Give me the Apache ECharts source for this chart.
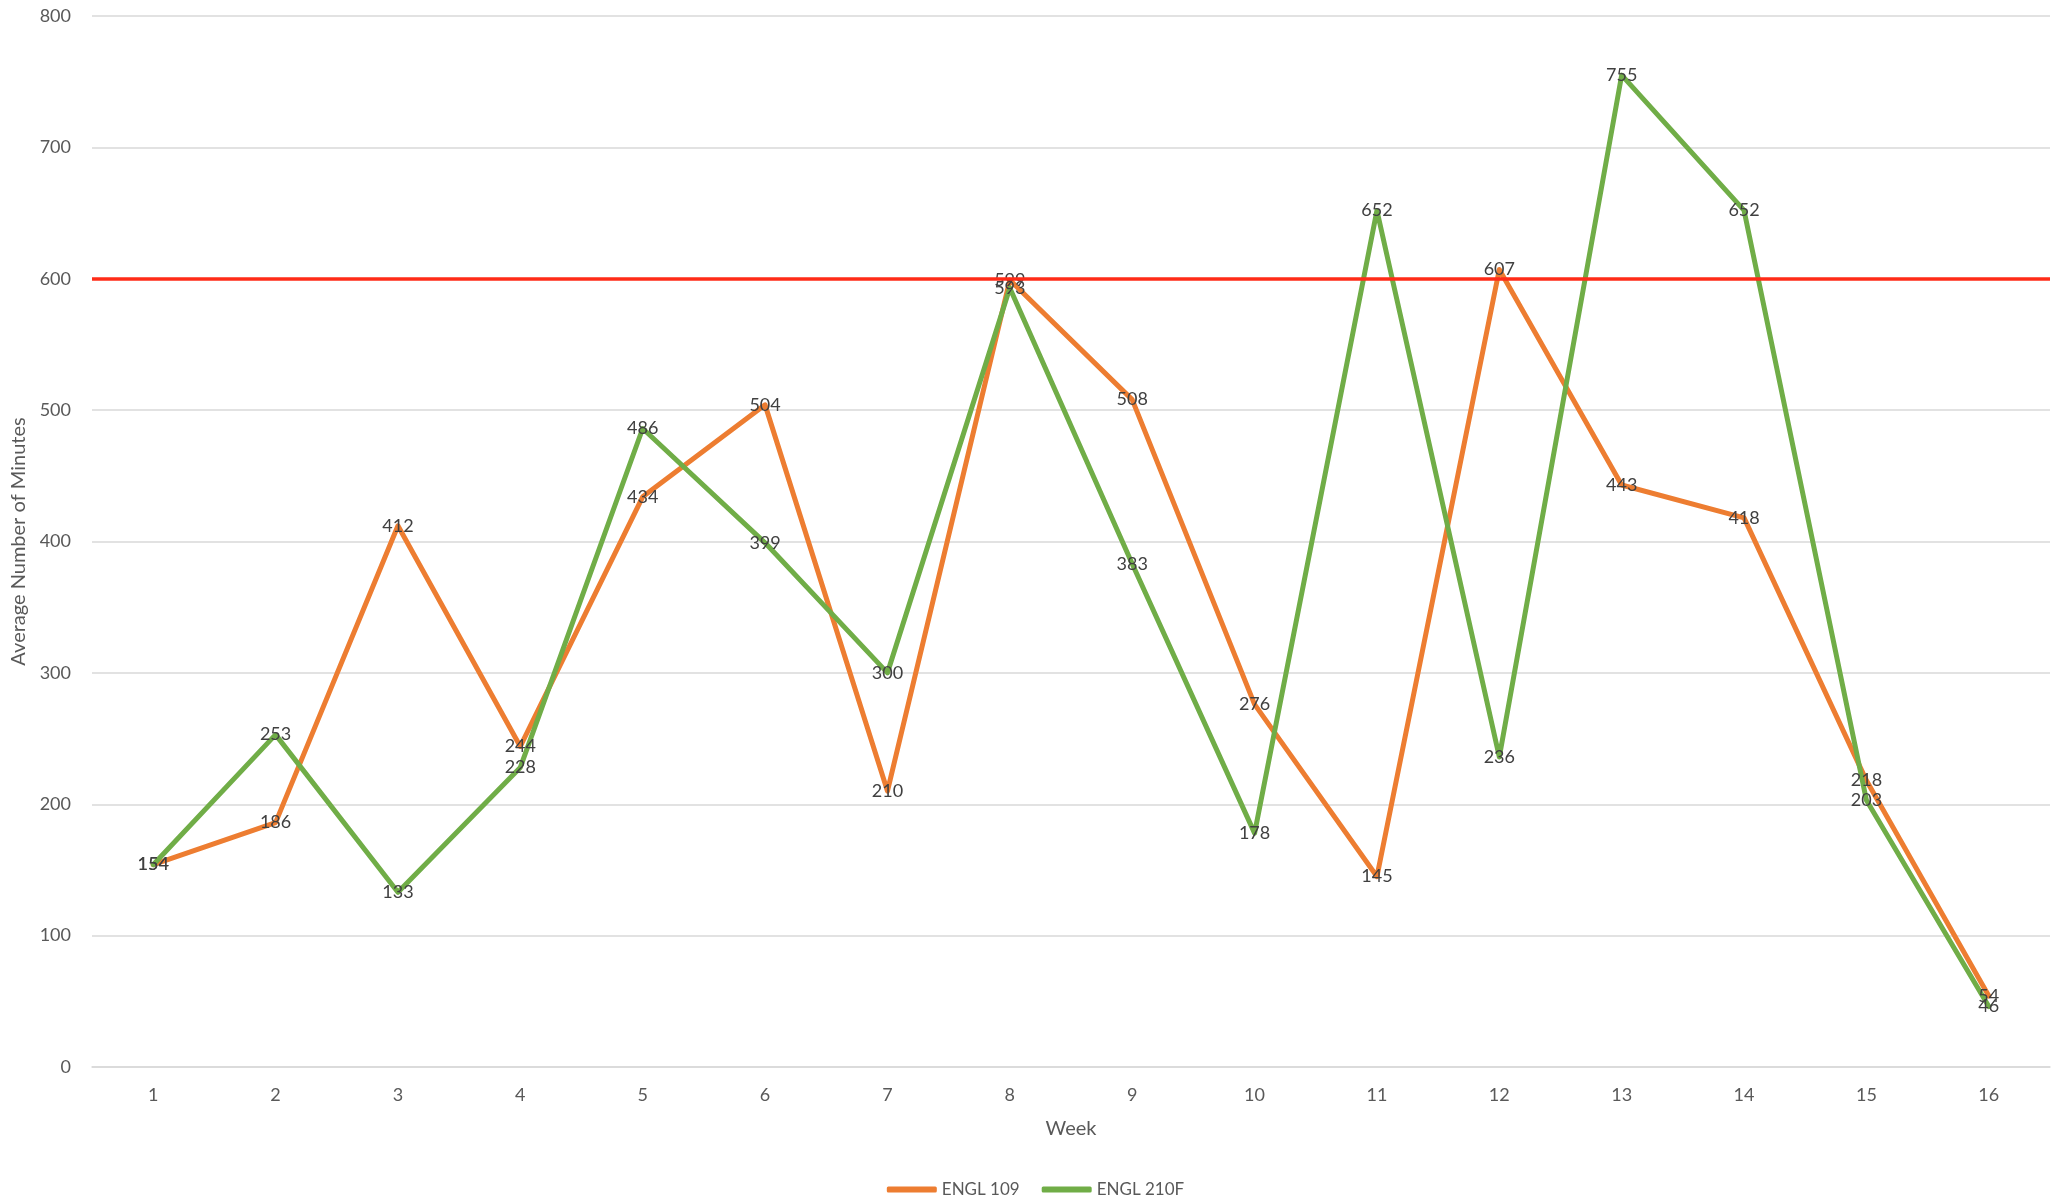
<!DOCTYPE html>
<html>
<head>
<meta charset="utf-8">
<style>
  html, body { margin: 0; padding: 0; background: #ffffff; }
  #chart { width: 2071px; height: 1199px; }
</style>
<script src="https://cdn.jsdelivr.net/npm/echarts@6/dist/echarts.min.js"></script>
</head>
<body>
<div id="chart"></div>
<script>
// Weekly average minutes per course
const weeks = ['1', '2', '3', '4', '5', '6', '7', '8', '9', '10', '11', '12', '13', '14', '15', '16'];
const engl109 = [154, 186, 412, 244, 434, 504, 210, 599, 508, 276, 145, 607, 443, 418, 218, 54];
const engl210F = [154, 253, 133, 228, 486, 399, 300, 593, 383, 178, 652, 236, 755, 652, 203, 46];
const targetMinutes = 600;

const FONT = 'Lato, "Open Sans", sans-serif';
const ORANGE = '#ED7D31';
const GREEN = '#70AD47';
const TARGET_RED = '#FF2B17';

const chart = echarts.init(document.getElementById('chart'), null, { renderer: 'canvas' });

const valueLabel = {
  show: true,
  position: 'inside',
  color: '#404040',
  fontFamily: FONT,
  fontSize: 18
};

function courseSeries(name, data, color) {
  return {
    name: name,
    type: 'line',
    data: data,
    symbol: 'circle',
    symbolSize: 0,
    showSymbol: true,
    itemStyle: { color: color },
    lineStyle: { color: color, width: 5, cap: 'round', join: 'round' },
    label: valueLabel,
    emphasis: { disabled: true },
    animation: false
  };
}

chart.setOption({
  backgroundColor: '#ffffff',
  animation: false,
  grid: { left: 92, right: 21, top: 16, bottom: 132 },
  legend: {
    data: ['ENGL 109', 'ENGL 210F'],
    bottom: -4,
    left: 'center',
    icon: 'roundRect',
    itemWidth: 50,
    itemHeight: 6,
    itemGap: 22,
    textStyle: { color: '#595959', fontFamily: FONT, fontSize: 17 }
  },
  xAxis: {
    type: 'category',
    data: weeks,
    boundaryGap: true,
    name: 'Week',
    nameLocation: 'middle',
    nameGap: 52,
    nameTextStyle: { color: '#595959', fontFamily: FONT, fontSize: 20 },
    axisLine: { show: true, lineStyle: { color: '#D9D9D9', width: 1.5 } },
    axisTick: { show: false },
    axisLabel: { color: '#595959', fontFamily: FONT, fontSize: 18, margin: 19 }
  },
  yAxis: {
    type: 'value',
    min: 0,
    max: 800,
    interval: 100,
    name: 'Average Number of Minutes',
    nameLocation: 'middle',
    nameGap: 60,
    nameTextStyle: { color: '#595959', fontFamily: FONT, fontSize: 20 },
    axisLine: { show: false },
    axisTick: { show: false },
    axisLabel: { color: '#595959', fontFamily: FONT, fontSize: 18, margin: 21 },
    splitLine: { show: true, lineStyle: { color: '#D9D9D9', width: 1.5 } }
  },
  series: [
    courseSeries('ENGL 109', engl109, ORANGE),
    courseSeries('ENGL 210F', engl210F, GREEN),
    {
      name: 'Target',
      type: 'line',
      data: [],
      markLine: {
        silent: true,
        symbol: 'none',
        label: { show: false },
        lineStyle: { color: TARGET_RED, width: 3.5, type: 'solid' },
        data: [{ yAxis: targetMinutes }]
      },
      animation: false
    }
  ]
});
</script>
</body>
</html>
